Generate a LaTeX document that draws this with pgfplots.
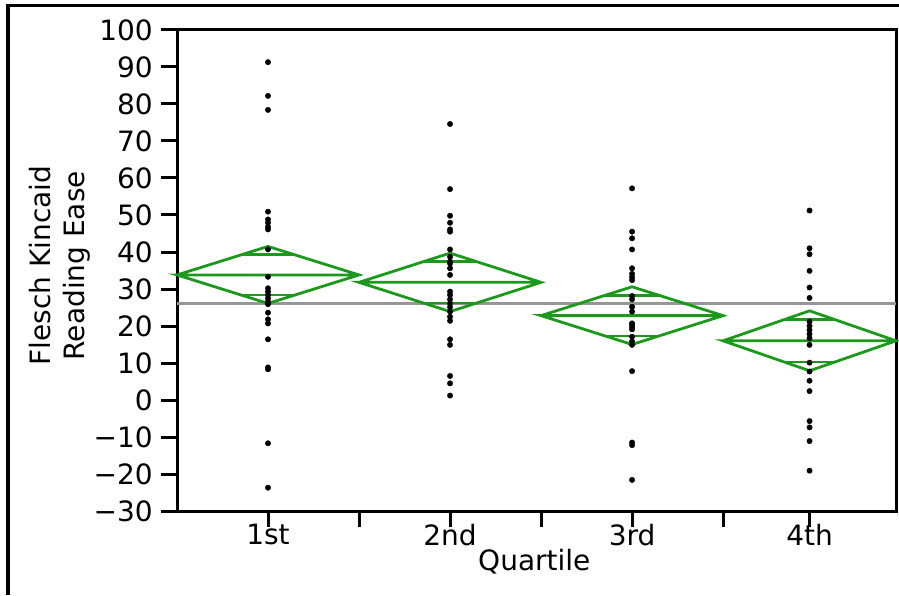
\documentclass[border=0pt]{standalone}
\usepackage{fontspec}
\setmainfont{DejaVu Sans}
\usepackage{pgfplots}
\pgfplotsset{compat=1.18}
\definecolor{jgreen}{RGB}{28,152,28}
\definecolor{jgray}{RGB}{150,150,150}
\begin{document}
\begin{tikzpicture}[x=1pt,y=1pt]
\useasboundingbox (0,0) rectangle (899,595);
\draw[line width=3.5pt] (8,0) -- (8,589.5) -- (899,589.5);
\begin{axis}[
  at={(177pt,84pt)}, anchor=south west,
  scale only axis, width=719pt, height=481pt,
  xmin=0, xmax=3.95, ymin=-30, ymax=100,
  axis line style={line width=3pt},
  ytick={-30,-20,...,100},
  yticklabels={−30,−20,−10,0,10,20,30,40,50,60,70,80,90,100},
  tick align=outside,
  major tick length=16pt,
  tick style={line width=3pt, black},
  xtick={0.5,1.5,2.5,3.475},
  xticklabels={1st,2nd,3rd,4th},
  minor xtick={1,2,3},
  minor tick length=16pt,
  x tick style={major tick length=0pt},
  every x tick/.style={line width=3pt,black},
  every minor tick/.append style={line width=3pt,black},
  xtick pos=bottom, ytick pos=left,
  ticklabel style={font=\fontsize{28}{34}\selectfont},
  yticklabel style={inner sep=0pt, xshift=-8pt},
  xticklabel style={inner sep=0pt, yshift=3pt},
  xlabel={Quartile},
  xlabel style={font=\fontsize{28}{34}\selectfont, inner sep=0pt, at={(rel axis cs:0.497,-0.079)}, anchor=north},
  ylabel={Flesch Kincaid\\Reading Ease},
  ylabel style={font=\fontsize{28}{34}\selectfont, align=center, at={(rel axis cs:-0.163,0.51)}, anchor=center, rotate=0},
  clip=false,
]
% grand mean
\addplot[jgray, line width=2.6pt] coordinates {(0,26.1) (3.95,26.1)};
% diamonds
\addplot[jgreen, line width=2.8pt] coordinates {(0,33.8) (0.5,41.5) (1,33.8) (0.5,26.1) (0,33.8) (1,33.8)};
\addplot[jgreen, line width=2.8pt] coordinates {(0.354,39.24) (0.646,39.24)};
\addplot[jgreen, line width=2.8pt] coordinates {(0.354,28.36) (0.646,28.36)};
\addplot[jgreen, line width=2.8pt] coordinates {(1,31.8) (1.5,39.7) (2,31.8) (1.5,23.9) (1,31.8) (2,31.8)};
\addplot[jgreen, line width=2.8pt] coordinates {(1.354,37.39) (1.646,37.39)};
\addplot[jgreen, line width=2.8pt] coordinates {(1.354,26.21) (1.646,26.21)};
\addplot[jgreen, line width=2.8pt] coordinates {(2,22.8) (2.5,30.6) (3,22.8) (2.5,15.0) (2,22.8) (3,22.8)};
\addplot[jgreen, line width=2.8pt] coordinates {(2.354,28.32) (2.646,28.32)};
\addplot[jgreen, line width=2.8pt] coordinates {(2.354,17.28) (2.646,17.28)};
\addplot[jgreen, line width=2.8pt] coordinates {(3,16.0) (3.475,24.1) (3.95,16.0) (3.475,7.9) (3,16.0) (3.95,16.0)};
\addplot[jgreen, line width=2.8pt] coordinates {(3.336,21.73) (3.614,21.73)};
\addplot[jgreen, line width=2.8pt] coordinates {(3.336,10.27) (3.614,10.27)};
% points
\addplot[only marks, mark=*, mark size=2.7pt, black] coordinates {
(0.5,91.3) (0.5,82.2) (0.5,78.4) (0.5,50.9) (0.5,48.8) (0.5,47.9) (0.5,46.8) (0.5,46.1) (0.5,40.7)
(0.5,33.3) (0.5,30.2) (0.5,29.3) (0.5,28.4) (0.5,27.5) (0.5,26.6) (0.5,25.9) (0.5,23.6) (0.5,21.8)
(0.5,20.7) (0.5,16.4) (0.5,8.8) (0.5,8.3) (0.5,-11.7) (0.5,-23.7)};
\addplot[only marks, mark=*, mark size=2.7pt, black] coordinates {
(1.5,74.6) (1.5,57.0) (1.5,49.8) (1.5,47.9) (1.5,46.1) (1.5,45.5) (1.5,40.7) (1.5,38.7) (1.5,37.4)
(1.5,36.9) (1.5,35.6) (1.5,33.8) (1.5,29.3) (1.5,28.4) (1.5,27.2) (1.5,26.1) (1.5,25.1) (1.5,23.9)
(1.5,22.5) (1.5,21.4) (1.5,16.4) (1.5,14.9) (1.5,6.5) (1.5,4.5) (1.5,1.2)};
\addplot[only marks, mark=*, mark size=2.7pt, black] coordinates {
(2.5,57.2) (2.5,45.5) (2.5,43.7) (2.5,40.7) (2.5,35.6) (2.5,34.1) (2.5,33.2) (2.5,32.4) (2.5,28.1)
(2.5,27.2) (2.5,25.2) (2.5,23.9) (2.5,20.5) (2.5,19.8) (2.5,19.1) (2.5,20.7) (2.5,17.1) (2.5,15.8)
(2.5,14.9) (2.5,7.8) (2.5,-11.5) (2.5,-12.2) (2.5,-21.6)};
\addplot[only marks, mark=*, mark size=2.7pt, black] coordinates {
(3.475,51.2) (3.475,41.0) (3.475,39.4) (3.475,34.9) (3.475,30.4) (3.475,27.6) (3.475,21.2) (3.475,20.0)
(3.475,18.9) (3.475,17.8) (3.475,16.7) (3.475,14.9) (3.475,10.1) (3.475,7.7) (3.475,5.2) (3.475,2.4)
(3.475,-5.7) (3.475,-7.4) (3.475,-11.1) (3.475,-19.1)};
\end{axis}
\end{tikzpicture}
\end{document}
